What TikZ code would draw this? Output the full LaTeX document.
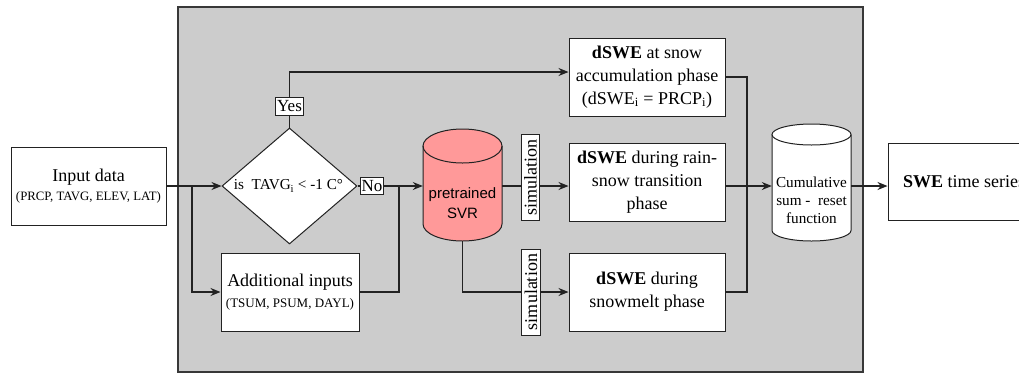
\documentclass[tikz,border=0pt]{standalone}
\usepackage{fontspec}
\setmainfont{Liberation Serif}
\newfontfamily\sansf{Liberation Sans}
\usetikzlibrary{shapes.geometric,arrows.meta}
\definecolor{panel}{HTML}{CCCCCC}
\definecolor{svrpink}{HTML}{FF9999}
\definecolor{ink}{HTML}{222222}
\begin{document}
\begin{tikzpicture}[x=1pt,y=1pt,
  line/.style={draw=ink, line width=1.1pt},
  arr/.style={line, -{Stealth[length=10pt,width=8pt]}},
  box/.style={draw=ink, line width=1pt, fill=white, align=center, inner sep=0pt,
    font=\fontsize{18}{23}\selectfont},
  tag/.style={draw=ink, line width=1pt, fill=white, inner xsep=1.5pt, inner ysep=3pt,
    font=\fontsize{17}{19}\selectfont},
  simtag/.style={draw=ink, line width=1pt, fill=white, inner xsep=5pt, inner ysep=3pt,
    rotate=90, font=\fontsize{18}{20}\selectfont},
  hole/.style={draw=none, inner sep=0pt}]
\useasboundingbox (0,0) rectangle (1019,-373);
\clip (0,0) rectangle (1019,-373);

% grey panel
\fill[panel, draw=ink!90, line width=1.2pt] (178,-7) rectangle (863,-372);

% nodes
\node[box, minimum width=155, minimum height=78] (in) at (88.5,-186)
  {Input data\\[-4pt]{\fontsize{12.8}{14}\selectfont (PRCP, TAVG, ELEV, LAT)}};
\node[diamond, draw=ink, line width=1pt, fill=white, minimum width=135,
  minimum height=116, inner sep=0pt] (dia) at (289.5,-186) {};
\node[hole, font=\fontsize{15.2}{18}\selectfont] (diatext) at (288.5,-186)
  {is\ \ TAVG\textsubscript{i} < -1 C°};
\node[box, minimum width=138, minimum height=78] (add) at (290,-292)
  {Additional inputs\\[-2pt]{\fontsize{13}{14}\selectfont (TSUM, PSUM, DAYL)}};

% pretrained SVR cylinder
\node[hole, minimum width=79, minimum height=112] (svr) at (462.5,-185) {};
\fill[svrpink] (423,-146) -- (423,-224) arc[start angle=180, end angle=360,
  x radius=39.5pt, y radius=17pt] -- (502,-146) arc[start angle=0, end angle=180,
  x radius=39.5pt, y radius=17pt] -- cycle;
\draw[ink, line width=1pt] (423,-146) -- (423,-224) arc[start angle=180, end angle=360,
  x radius=39.5pt, y radius=17pt] -- (502,-146);
\draw[ink, line width=1pt] (462.5,-146) ellipse [x radius=39.5pt, y radius=17pt];
\node[hole, align=center, font=\sansf\fontsize{15}{20}\selectfont] (svrtext)
  at (462.5,-203) {pretrained\\SVR};

% output boxes
\node[box, minimum width=156, minimum height=78] (top) at (647,-77)
  {\textbf{dSWE} at snow\\accumulation phase\\(dSWE\textsubscript{i} = PRCP\textsubscript{i})};
\node[box, minimum width=156, minimum height=78] (mid) at (647,-182)
  {\textbf{dSWE} during rain-\\snow transition\\phase};
\node[box, minimum width=156, minimum height=78] (bot) at (647,-292)
  {\textbf{dSWE} during\\snowmelt phase};

% cumulative cylinder
\node[hole, minimum width=79, minimum height=117] (cum) at (811.5,-182.5) {};
\fill[white] (772,-134.5) -- (772,-230.5) arc[start angle=180, end angle=360,
  x radius=39.5pt, y radius=10.5pt] -- (851,-134.5) arc[start angle=0, end angle=180,
  x radius=39.5pt, y radius=10.5pt] -- cycle;
\draw[ink, line width=1pt] (772,-134.5) -- (772,-230.5) arc[start angle=180, end angle=360,
  x radius=39.5pt, y radius=10.5pt] -- (851,-134.5);
\draw[ink, line width=1pt] (811.5,-134.5) ellipse [x radius=39.5pt, y radius=10.5pt];
\node[hole, align=center, font=\fontsize{15.2}{18}\selectfont] (cumtext)
  at (811.5,-200) {Cumulative\\sum -\ \ reset\\function};

\node[box, minimum width=152, minimum height=77] (swe) at (964,-181.5)
  {\textbf{SWE} time series};

% junctions
\coordinate (j1) at (192,-186);
\coordinate (yc) at (289.5,-72);
\coordinate (j2) at (399,-186);
\coordinate (j3) at (747,-186);

% connectors
\draw[arr] (in.east) -- (dia.west);
\draw[arr] (j1) |- (add.west);
\draw[arr] (dia.north) -- (yc) -- (top.west |- yc);
\draw[arr] (dia.east) -- (svr.west |- dia.east);
\draw[line] (add.east) -| (j2);
\draw[arr] (svr.east |- j2) -- (mid.west |- j2);
\draw[arr] (svr.south) |- (bot.west);
\draw[line] (top.east) -| (j3);
\draw[line] (bot.east) -| (j3);
\draw[arr] (mid.east |- j3) -- (cum.west |- j3);
\draw[arr] (cum.east |- j3) -- (swe.west |- j3);

% labels on connectors
\node[tag] (yes) at (289.5,-106.5) {Yes};
\node[tag] (no) at (372,-186) {No};
\node[simtag] (sim1) at (530.5,-177.5) {simulation};
\node[simtag] (sim2) at (531,-292) {simulation};
\end{tikzpicture}
\end{document}
